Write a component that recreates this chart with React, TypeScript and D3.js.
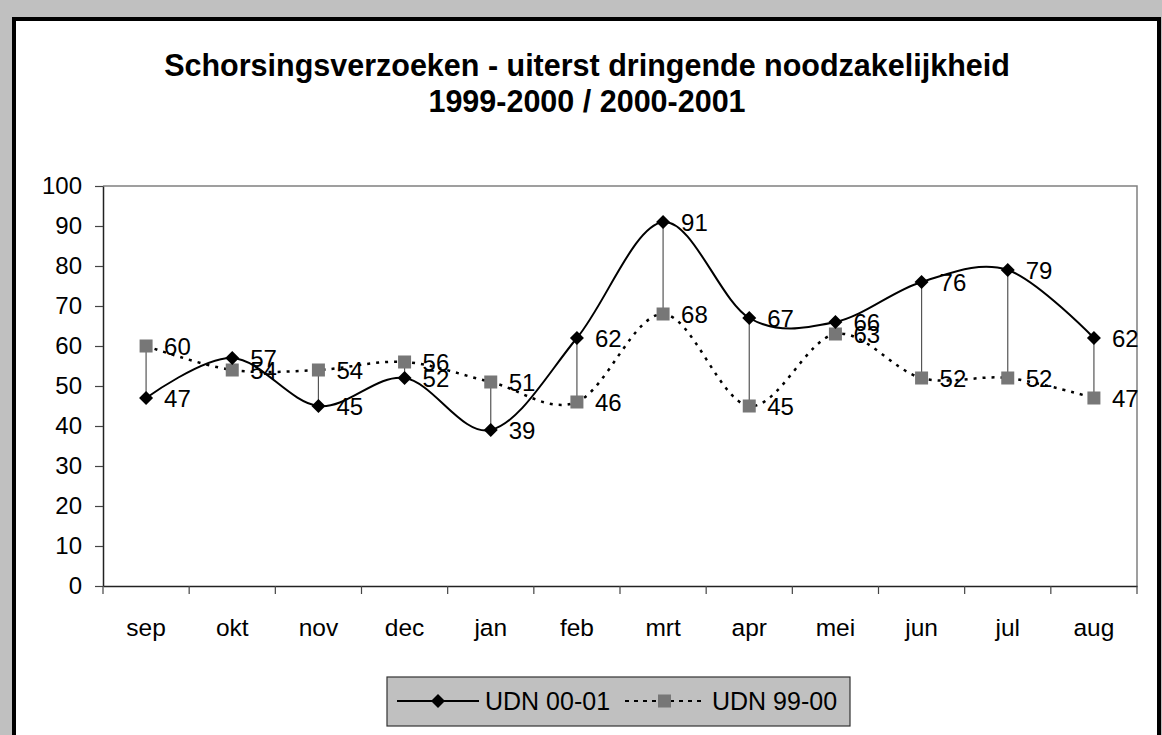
import React, { useEffect, useRef } from 'react';
import * as d3 from 'd3';

const months = ['sep', 'okt', 'nov', 'dec', 'jan', 'feb', 'mrt', 'apr', 'mei', 'jun', 'jul', 'aug'];
const udn0001 = [47, 57, 45, 52, 39, 62, 91, 67, 66, 76, 79, 62];
const udn9900 = [60, 54, 54, 56, 51, 46, 68, 45, 63, 52, 52, 47];
const yTicks = [0, 10, 20, 30, 40, 50, 60, 70, 80, 90, 100];

const W = 1162;
const H = 735;
const FONT = 'Liberation Sans, Arial, sans-serif';

const App = () => {
  const ref = useRef<SVGSVGElement>(null);

  useEffect(() => {
    const svg = d3.select(ref.current);
    svg.selectAll('*').remove();

    // outer frame
    svg.append('rect').attr('width', W).attr('height', H).attr('fill', '#c0c0c0');
    svg.append('rect')
      .attr('x', 14).attr('y', 19).attr('width', 1145).attr('height', 740)
      .attr('fill', 'white').attr('stroke', 'black').attr('stroke-width', 4);

    // title
    const title = svg.append('text')
      .attr('text-anchor', 'middle')
      .attr('font-family', FONT).attr('font-weight', 'bold').attr('font-size', 30.5);
    title.append('tspan').attr('x', 587).attr('y', 76).text('Schorsingsverzoeken - uiterst dringende noodzakelijkheid');
    title.append('tspan').attr('x', 587).attr('y', 112).text('1999-2000 / 2000-2001');

    const left = 103, right = 1137, top = 186, bottom = 586;

    const x = d3.scaleBand().domain(months).range([left, right]);
    const y = d3.scaleLinear().domain([0, 100]).range([bottom, top]);
    const cx = (i: number) => (x(months[i]) as number) + x.bandwidth() / 2;

    // plot border (top/right gray)
    svg.append('path')
      .attr('d', `M${left},${top}H${right}V${bottom}`)
      .attr('fill', 'none').attr('stroke', '#808080').attr('stroke-width', 1.5);

    // y axis
    const yAxis = svg.append('g').attr('transform', `translate(${left},0)`)
      .call(d3.axisLeft(y).tickValues(yTicks).tickSize(8).tickPadding(13).tickSizeOuter(0));
    yAxis.select('.domain').attr('stroke', '#222').attr('stroke-width', 1.5);
    yAxis.selectAll('.tick line').attr('stroke', '#444').attr('stroke-width', 1.2);
    yAxis.selectAll('.tick text').attr('font-family', FONT).attr('font-size', 24).attr('fill', 'black');

    // x axis
    const xAxis = svg.append('g').attr('transform', `translate(0,${bottom})`)
      .call(d3.axisBottom(x).tickSize(0).tickPadding(33));
    xAxis.select('.domain').attr('stroke', '#222').attr('stroke-width', 1.5);
    xAxis.selectAll('.tick text').attr('font-family', FONT).attr('font-size', 24.5).attr('fill', 'black');
    const bounds = d3.range(months.length + 1).map(i => left + i * x.bandwidth());
    svg.append('g').selectAll('line').data(bounds).join('line')
      .attr('x1', d => d).attr('x2', d => d)
      .attr('y1', bottom).attr('y2', bottom + 8)
      .attr('stroke', '#444').attr('stroke-width', 1.2);

    // high-low lines
    svg.append('g').selectAll('line').data(months).join('line')
      .attr('x1', (_, i) => cx(i)).attr('x2', (_, i) => cx(i))
      .attr('y1', (_, i) => y(udn0001[i])).attr('y2', (_, i) => y(udn9900[i]))
      .attr('stroke', '#555').attr('stroke-width', 1.2);

    const line = d3.line<number>()
      .x((_, i) => cx(i)).y(d => y(d))
      .curve(d3.curveCardinal.tension(0));

    svg.append('path').datum(udn9900).attr('d', line)
      .attr('fill', 'none').attr('stroke', 'black').attr('stroke-width', 2.5)
      .attr('stroke-dasharray', '3,6');
    svg.append('path').datum(udn0001).attr('d', line)
      .attr('fill', 'none').attr('stroke', 'black').attr('stroke-width', 2);

    const diamond = (px: number, py: number, r: number) =>
      `M${px},${py - r}L${px + r},${py}L${px},${py + r}L${px - r},${py}Z`;

    // markers
    svg.append('g').selectAll('rect').data(udn9900).join('rect')
      .attr('x', (_, i) => cx(i) - 6.5).attr('y', d => y(d) - 6.5)
      .attr('width', 13).attr('height', 13).attr('fill', '#777');
    svg.append('g').selectAll('path').data(udn0001).join('path')
      .attr('d', (d, i) => diamond(cx(i), y(d), 7)).attr('fill', 'black');

    // data labels
    const lbl = (data: number[]) => svg.append('g').selectAll('text').data(data).join('text')
      .attr('x', (_, i) => cx(i) + 18).attr('y', d => y(d) + 8.5)
      .attr('font-family', FONT).attr('font-size', 24).attr('fill', 'black')
      .text(d => d);
    lbl(udn9900);
    lbl(udn0001);

    // legend
    const lg = svg.append('g');
    lg.append('rect').attr('x', 387).attr('y', 677).attr('width', 463).attr('height', 49)
      .attr('fill', '#c0c0c0').attr('stroke', '#333').attr('stroke-width', 1.2);
    const ly = 701;
    lg.append('line').attr('x1', 397).attr('x2', 479).attr('y1', ly).attr('y2', ly)
      .attr('stroke', 'black').attr('stroke-width', 2);
    lg.append('path').attr('d', diamond(438, ly, 7)).attr('fill', 'black');
    lg.append('text').attr('x', 485).attr('y', ly + 9).attr('font-family', FONT).attr('font-size', 25).text('UDN 00-01');
    lg.append('line').attr('x1', 625).attr('x2', 703).attr('y1', ly).attr('y2', ly)
      .attr('stroke', 'black').attr('stroke-width', 2).attr('stroke-dasharray', '4,5');
    lg.append('rect').attr('x', 658).attr('y', ly - 6.5).attr('width', 13).attr('height', 13).attr('fill', '#777');
    lg.append('text').attr('x', 712).attr('y', ly + 9).attr('font-family', FONT).attr('font-size', 25).text('UDN 99-00');
  }, []);

  return (
    <svg ref={ref} width={W} height={H} style={{ position: 'absolute', left: 0, top: 0 }} />
  );
};

export default App;
